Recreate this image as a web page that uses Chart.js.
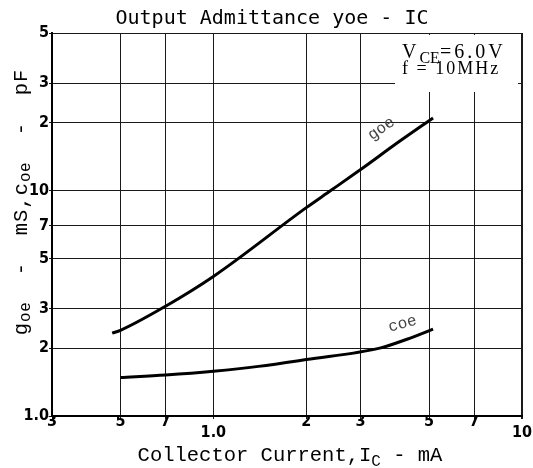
<!DOCTYPE html>
<html><head><meta charset="utf-8">
<script src="https://cdn.jsdelivr.net/npm/chart.js@4/dist/chart.umd.min.js"></script>
<style>html,body{margin:0;padding:0;background:#fff}#wrap{width:533px;height:468px;position:relative}</style>
</head><body><div id="wrap"><canvas id="c" width="533" height="468"></canvas></div>
<script>
const titleText = 'Output Admittance yoe - IC';
const xTickValues = [0.3, 0.5, 0.7, 1, 2, 3, 5, 7, 10];
const xTickLabels = ['3', '5', '7', '1.0', '2', '3', '5', '7', '10'];
const xTickLowered = ['1.0', '10'];
const yTickValues = [1, 2, 3, 5, 7, 10, 20, 30, 50];
const yTickLabels = ['1.0', '2', '3', '5', '7', '10', '2', '3', '5'];
const goeCurrent = [0.47, 0.5, 0.7, 1.0, 2.0, 2.4, 3.0, 4.0, 5.15];
const goeValues = [2.33, 2.40, 3.07, 4.16, 8.4, 10.0, 12.4, 16.5, 21.0];
const coeCurrent = [0.5, 0.7, 1.0, 1.4, 2.0, 3.46, 4.24, 5.15];
const coeValues = [1.48, 1.52, 1.58, 1.66, 1.78, 2.0, 2.19, 2.43];
const seriesNames = ['goe', 'coe'];
const xTitleParts = [['Collector Current,I', 0], ['C', 1], [' - mA', 0]];
const yTitleParts = [['g', 0], ['oe', 1], ['  -  mS,c', 0], ['oe', 1], ['  -  pF', 0]];
const condLine1 = [['V', 0], ['CE', 1], ['=6.0V', 0]];
const condLine2 = [['f = 10MHz', 0]];

const tickFont = {family: "'DejaVu Sans Condensed','Liberation Sans Narrow','Liberation Sans',sans-serif", size: 16, weight: 'bold'};
const monoFam = "'Liberation Mono','Courier New',monospace";
const serifFam = "'Liberation Serif','Times New Roman',serif";

// parts: [text, isSub]; opts: size, fam, align, spacing, subSpacing, subDrop
function drawRich(ctx, parts, x, y, o) {
  const mainF = o.size + 'px ' + o.fam;
  const subF = Math.round(o.size * 0.8) + 'px ' + o.fam;
  const setF = s => { ctx.font = s ? subF : mainF; ctx.letterSpacing = (s ? (o.subSpacing || 0) : (o.spacing || 0)) + 'px'; };
  let w = 0;
  parts.forEach(([t, s]) => { setF(s); w += ctx.measureText(t).width; });
  let cx = o.align === 'center' ? x - w / 2 : x;
  ctx.textBaseline = 'alphabetic';
  ctx.textAlign = 'left';
  parts.forEach(([t, s]) => {
    setF(s);
    ctx.fillText(t, cx, y + (s ? o.size * (o.subDrop || 0.25) : 0));
    cx += ctx.measureText(t).width;
  });
  ctx.letterSpacing = '0px';
}

const annot = {
  id: 'annot',
  beforeDatasetsDraw(chart) {
    const {ctx, chartArea: a} = chart;
    ctx.save();
    ctx.fillStyle = '#fff';
    ctx.fillRect(a.right - 127, a.top + 2, 123, 57);
    ctx.restore();
  },
  afterDraw(chart) {
    const {ctx, chartArea: a, scales: {x, y}} = chart;
    ctx.save();
    ctx.fillStyle = '#000';
    drawRich(ctx, condLine1, a.right - 120, a.top + 25, {size: 20, fam: serifFam, spacing: 3, subSpacing: 0});
    drawRich(ctx, condLine2, a.right - 120, a.top + 41, {size: 18, fam: serifFam, spacing: 2});
    // axis titles
    drawRich(ctx, xTitleParts, 290, 461, {size: 20.5, fam: monoFam, align: 'center'});
    ctx.save();
    ctx.translate(27, 202);
    ctx.rotate(-Math.PI / 2);
    drawRich(ctx, yTitleParts, 0, 0, {size: 20.5, fam: monoFam, align: 'center', spacing: 1, subSpacing: 0.5, subDrop: 0.15});
    ctx.restore();
    // curve labels
    const lab = (t, vx, vy, ang) => {
      ctx.save();
      ctx.translate(x.getPixelForValue(vx), y.getPixelForValue(vy));
      ctx.rotate(ang * Math.PI / 180);
      ctx.font = '16px ' + monoFam;
      ctx.fillStyle = '#444';
      ctx.textAlign = 'center';
      ctx.textBaseline = 'middle';
      ctx.fillText(t, 0, 0);
      ctx.restore();
    };
    lab(seriesNames[0], 3.5, 18.8, -35);
    lab(seriesNames[1], 4.1, 2.56, -15);
    ctx.restore();
  }
};

const toPts = (xs, ys) => xs.map((v, i) => ({x: v, y: ys[i]}));
const lineStyle = {borderColor: '#000', borderWidth: 3, pointRadius: 0, fill: false, cubicInterpolationMode: 'monotone'};

new Chart(document.getElementById('c'), {
  type: 'line',
  data: {datasets: [
    Object.assign({label: seriesNames[0], data: toPts(goeCurrent, goeValues)}, lineStyle),
    Object.assign({label: seriesNames[1], data: toPts(coeCurrent, coeValues)}, lineStyle)
  ]},
  options: {
    responsive: false, animation: false, devicePixelRatio: 1,
    layout: {padding: {left: 22, right: 11, top: 0, bottom: 0}},
    plugins: {
      legend: {display: false}, tooltip: {enabled: false},
      title: {display: true, text: titleText, color: '#000',
        font: {family: "'DejaVu Sans Mono',monospace", size: 20, weight: 'normal'},
        padding: {top: 7, bottom: 2}}
    },
    scales: {
      x: {
        type: 'logarithmic', min: 0.3, max: 10,
        afterBuildTicks: s => { s.ticks = xTickValues.map(v => ({value: v})); },
        afterFit: s => { s.height = 52; },
        ticks: {
          autoSkip: false, maxRotation: 0, minRotation: 0, color: '#000', padding: -3,
          font: Object.assign({}, tickFont, {lineHeight: '11px'}),
          callback: (v) => {
            const i = xTickValues.findIndex(t => Math.abs(t - v) < 1e-9);
            const l = xTickLabels[i];
            return xTickLowered.includes(l) ? ['', l] : l;
          }
        },
        grid: {color: '#1a1a1a', lineWidth: c => (c.tick && c.tick.value === 10 ? 2 : 1), tickLength: 3},
        border: {color: '#000', width: 2}
      },
      y: {
        type: 'logarithmic', min: 1, max: 50,
        afterBuildTicks: s => { s.ticks = yTickValues.map(v => ({value: v})); },
        afterFit: s => { s.width = 30; },
        ticks: {
          autoSkip: false, color: '#000', padding: 0, font: tickFont,
          callback: (v) => {
            const i = yTickValues.findIndex(t => Math.abs(t - v) < 1e-9);
            return yTickLabels[i];
          }
        },
        grid: {color: '#1a1a1a', lineWidth: 1, tickLength: 3},
        border: {color: '#000', width: 2}
      }
    }
  },
  plugins: [annot]
});
</script></body></html>
